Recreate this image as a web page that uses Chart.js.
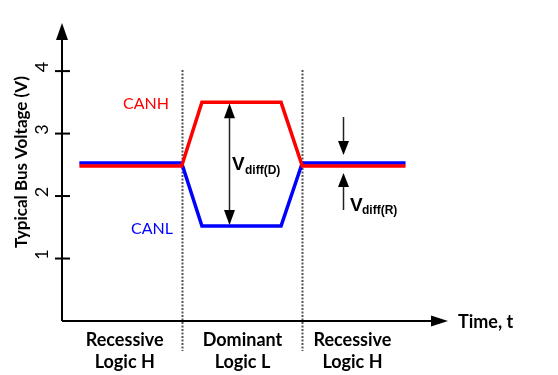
<!DOCTYPE html>
<html>
<head>
<meta charset="utf-8">
<script src="https://cdn.jsdelivr.net/npm/chart.js@4.4.1/dist/chart.umd.min.js"></script>
<style>
  body { margin: 0; background: #fff; }
  #wrap { width: 558px; height: 375px; }
</style>
</head>
<body>
<div id="wrap"><canvas id="busChart" width="558" height="375"></canvas></div>
<script>
// time points of the bus waveform (arbitrary units)
const timeT = [0.9, 6.2, 7.25, 11.35, 12.45, 17.8];
const canhV = [2.48, 2.48, 3.5, 3.5, 2.48, 2.48];
const canlV = [2.53, 2.53, 1.52, 1.52, 2.53, 2.53];
const yTicks = [1, 2, 3, 4];
const stateEdges = [6.2, 12.45];
const stateT = [3.25, 9.35, 15.05];
const stateLabels = [["Recessive", "Logic H"], ["Dominant", "Logic L"], ["Recessive", "Logic H"]];
const vdiffD = { t: 8.65, lo: 1.52, hi: 3.5 };
const vdiffR = { t: 14.55, lo: 2.48, hi: 2.53 };

const ctx = document.getElementById("busChart");
const FONT = "Lato, 'Open Sans', sans-serif";

function toPoints(xs, ys) {
  return xs.map((x, i) => ({ x: x, y: ys[i] }));
}

function arrowHead(c, x, y, dir, w, h) {
  // dir: 1 = pointing up, -1 = down, 2 = right
  c.beginPath();
  if (dir === 2) {
    c.moveTo(x, y);
    c.lineTo(x - h, y - w / 2);
    c.lineTo(x - h, y + w / 2);
  } else {
    c.moveTo(x, y);
    c.lineTo(x - w / 2, y + dir * h);
    c.lineTo(x + w / 2, y + dir * h);
  }
  c.closePath();
  c.fill();
}

const decor = {
  id: "decor",
  beforeDatasetsDraw(chart) {
    const c = chart.ctx;
    const xs = chart.scales.x;
    const ys = chart.scales.y;
    const area = chart.chartArea;
    c.save();
    // state boundaries
    c.strokeStyle = "#555";
    c.lineWidth = 2;
    c.setLineDash([2, 1.5]);
    stateEdges.forEach((t) => {
      const px = Math.round(xs.getPixelForValue(t)) + 0.5;
      c.beginPath();
      c.moveTo(px, 70);
      c.lineTo(px, 351);
      c.stroke();
    });
    c.setLineDash([]);

    // axes
    const x0 = xs.getPixelForValue(0);
    const y0 = ys.getPixelForValue(0);
    c.strokeStyle = "#000";
    c.fillStyle = "#000";
    c.lineWidth = 2;
    c.beginPath();
    c.moveTo(x0, y0);
    c.lineTo(x0, area.top + 14);
    c.moveTo(x0, y0);
    c.lineTo(area.right - 12, y0);
    c.stroke();
    arrowHead(c, x0, area.top, 1, 12, 17);
    arrowHead(c, area.right, y0, 2, 11, 17);

    // y ticks
    c.font = "18px " + FONT;
    c.textAlign = "center";
    c.textBaseline = "middle";
    yTicks.forEach((v) => {
      const py = ys.getPixelForValue(v);
      c.beginPath();
      c.moveTo(x0 - 7, py);
      c.lineTo(x0 + 8, py);
      c.stroke();
      c.save();
      c.translate(42, py - 4);
      c.rotate(-Math.PI / 2);
      c.fillText(String(v), 0, 0);
      c.restore();
    });

    // axis titles
    c.font = "bold 17px " + FONT;
    c.save();
    c.translate(22, 162);
    c.rotate(-Math.PI / 2);
    c.fillText("Typical Bus Voltage (V)", 0, 0);
    c.restore();
    c.textAlign = "left";
    c.font = "bold 18px " + FONT;
    c.fillText("Time, t", area.right + 10, y0 + 1);

    // state labels
    c.textAlign = "center";
    stateLabels.forEach((lines, i) => {
      const px = xs.getPixelForValue(stateT[i]);
      c.fillText(lines[0], px, 340);
      c.fillText(lines[1], px, 362);
    });

    // series labels
    c.font = "16px " + FONT;
    c.fillStyle = "#ff0000";
    c.fillText("CANH", 146, 104);
    c.fillStyle = "#0000ff";
    c.fillText("CANL", 152, 229);
    c.restore();
  },
  afterDatasetsDraw(chart) {
    const c = chart.ctx;
    const xs = chart.scales.x;
    const ys = chart.scales.y;
    c.save();
    c.strokeStyle = "#222";
    c.fillStyle = "#000";
    c.lineWidth = 1.5;

    // V diff (D): double arrow between the dominant levels
    let px = Math.round(xs.getPixelForValue(vdiffD.t)) + 0.5;
    const top = ys.getPixelForValue(vdiffD.hi) + 1;
    const bot = ys.getPixelForValue(vdiffD.lo) - 1;
    c.beginPath();
    c.moveTo(px, top + 12);
    c.lineTo(px, bot - 12);
    c.stroke();
    arrowHead(c, px, top, 1, 11, 15);
    arrowHead(c, px, bot, -1, 11, 15);

    // V diff (R): two arrows pointing at the recessive levels
    px = Math.round(xs.getPixelForValue(vdiffR.t)) + 0.5;
    const rTop = ys.getPixelForValue(vdiffR.hi) - 8;
    const rBot = ys.getPixelForValue(vdiffR.lo) + 7;
    c.beginPath();
    c.moveTo(px, 117);
    c.lineTo(px, rTop - 12);
    c.moveTo(px, 210);
    c.lineTo(px, rBot + 12);
    c.stroke();
    arrowHead(c, px, rTop, -1, 11, 14);
    arrowHead(c, px, rBot, 1, 11, 14);

    // V labels
    c.textBaseline = "middle";
    c.textAlign = "left";
    c.font = "bold 19px 'Liberation Sans', Arial, sans-serif";
    c.fillText("V", 232, 165);
    c.fillText("V", 350, 206);
    c.font = "bold 12px 'Liberation Sans', Arial, sans-serif";
    c.fillText("diff(D)", 245, 171);
    c.fillText("diff(R)", 362, 211);
    c.restore();
  }
};

new Chart(ctx, {
  type: "scatter",
  data: {
    datasets: [
      {
        label: "CANH",
        data: toPoints(timeT, canhV),
        showLine: true,
        borderColor: "#ff0000",
        borderWidth: 3.5,
        pointRadius: 0,
        tension: 0,
      },
      {
        label: "CANL",
        data: toPoints(timeT, canlV),
        showLine: true,
        borderColor: "#0000ff",
        borderWidth: 3.5,
        pointRadius: 0,
        tension: 0,
      },
    ],
  },
  options: {
    responsive: false,
    animation: false,
    layout: { padding: { left: 62, right: 110, top: 23, bottom: 54 } },
    plugins: {
      legend: { display: false },
      tooltip: { enabled: false },
    },
    scales: {
      x: { type: "linear", min: 0, max: 20, display: false },
      y: { type: "linear", min: 0, max: 4.77, display: false },
    },
  },
  plugins: [decor],
});
</script>
</body>
</html>
